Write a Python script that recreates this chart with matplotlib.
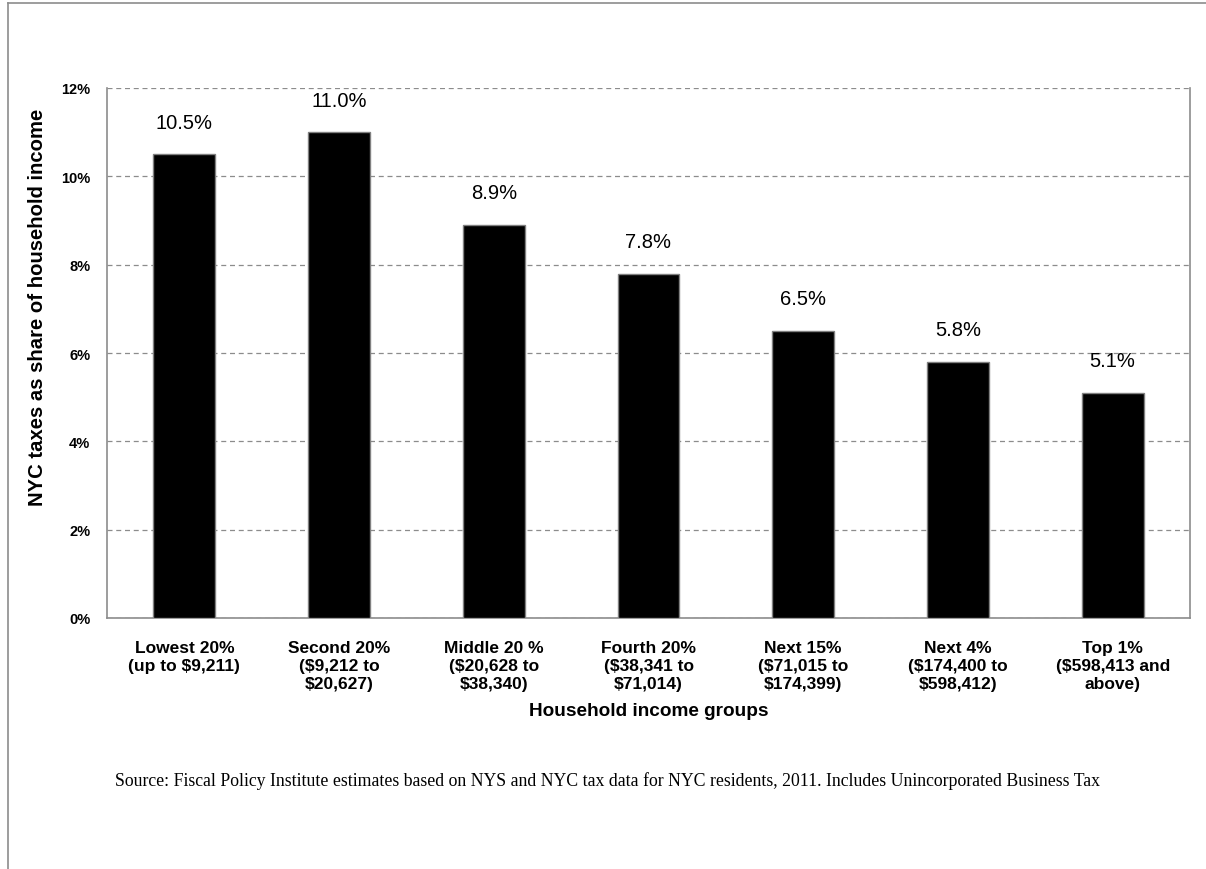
import matplotlib.pyplot as plt
from matplotlib.lines import Line2D
from matplotlib.ticker import FuncFormatter

# income groups and NYC tax share (percent of household income)
groups = ['Lowest 20%\n(up to $9,211)', 'Second 20%\n($9,212 to\n$20,627)',
          'Middle 20 %\n($20,628 to\n$38,340)', 'Fourth 20%\n($38,341 to\n$71,014)',
          'Next 15%\n($71,015 to\n$174,399)', 'Next 4%\n($174,400 to\n$598,412)',
          'Top 1%\n($598,413 and\nabove)']
shares = [10.5, 11.0, 8.9, 7.8, 6.5, 5.8, 5.1]
yticks = [0, 2, 4, 6, 8, 10, 12]

plt.rcParams['font.family'] = ['Liberation Sans', 'DejaVu Sans']

W, H = 1206, 870
fig = plt.figure(figsize=(W / 100, H / 100), dpi=100)
ax = fig.add_axes([107 / W, 1 - 619 / H, 1083 / W, 530 / H])

x = list(range(len(groups)))
ax.bar(x, shares, width=0.4, color='black', edgecolor='#808080', linewidth=1, zorder=3)
for xi, v in zip(x, shares):
    ax.text(xi, v + 0.6, '%.1f%%' % v, ha='center', va='baseline', fontsize=14.5)

ax.set_xlim(-0.5, len(groups) - 0.5)
ax.set_ylim(0, 12)
ax.set_yticks(yticks)
ax.yaxis.set_major_formatter(FuncFormatter(lambda v, p: '%d%%' % v))
ax.set_xticks(x)
ax.set_xticklabels(groups, fontsize=12.5, fontweight='bold', linespacing=1.22)
for lab in ax.get_yticklabels():
    lab.set_fontsize(10.5)
    lab.set_fontweight('bold')
ax.tick_params(axis='both', length=0)
ax.tick_params(axis='y', pad=12)
ax.tick_params(axis='x', pad=16)

ax.yaxis.grid(True, linestyle=(0, (4, 3)), color='#8c8c8c', linewidth=0.9, zorder=0)
for s in ['left', 'bottom', 'right']:
    ax.spines[s].set_color('#8c8c8c')
    ax.spines[s].set_linewidth(1.2)
ax.spines['top'].set_visible(False)

ax.set_ylabel('NYC taxes as share of household income', fontsize=14.6,
              fontweight='bold', va='center')
ax.yaxis.set_label_coords((38 - 107) / 1083, (619 - 307.5) / 530)
ax.set_xlabel('Household income groups', fontsize=13.7, fontweight='bold', va='center')
ax.xaxis.set_label_coords(0.5, (619 - 712) / 530)

fig.text(115 / W, 1 - 781 / H,
         'Source: Fiscal Policy Institute estimates based on NYS and NYC tax data for NYC '
         'residents, 2011. Includes Unincorporated Business Tax',
         fontsize=12.8, family='Liberation Serif', va='center', ha='left')

# outer frame of the figure panel
fig.add_artist(Line2D([8 / W, 1], [1 - 3.5 / H, 1 - 3.5 / H], color='#8c8c8c', lw=1.2))
fig.add_artist(Line2D([8 / W, 8 / W], [0, 1 - 3.5 / H], color='#8c8c8c', lw=1.2))

fig.savefig('out.png', dpi=100)
